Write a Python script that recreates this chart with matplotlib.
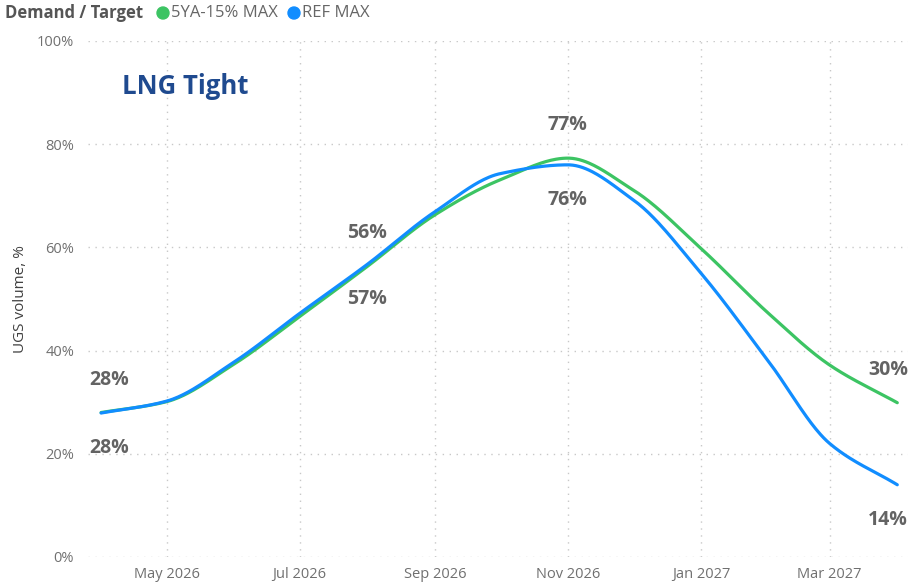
import numpy as np
import matplotlib
matplotlib.use("Agg")
import matplotlib.pyplot as plt
import matplotlib.dates as mdates
from datetime import date

months = ["2026-04-01", "2026-05-01", "2026-06-01", "2026-07-01", "2026-08-01",
          "2026-09-01", "2026-10-01", "2026-11-01", "2026-12-01", "2027-01-01",
          "2027-02-01", "2027-03-01", "2027-04-01"]
green_5ya = [28.0, 30.1, 37.4, 46.6, 56.3, 66.3, 73.1, 77.3, 71.1, 59.8, 47.2, 37.2, 29.9]
blue_ref = [27.9, 30.2, 37.8, 47.2, 56.7, 66.9, 74.3, 76.0, 69.2, 55.0, 37.9, 22.0, 14.0]
xtick_dates = ["2026-05-01", "2026-07-01", "2026-09-01", "2026-11-01", "2027-01-01", "2027-03-01"]
yticks = [0, 20, 40, 60, 80, 100]
label_idx = [0, 4, 7, 12]

GREEN = "#3CC463"
BLUE = "#118DFF"
FONT = ["Open Sans", "DejaVu Sans"]
plt.rcParams['font.family'] = FONT


def to_num(s):
    y, m, d = map(int, s.split("-"))
    return mdates.date2num(date(y, m, d))


def smooth(x, y, n=40):
    # monotone cubic (Fritsch-Carlson) for a smooth line through the points
    x = np.asarray(x, float); y = np.asarray(y, float)
    h = np.diff(x); d = np.diff(y) / h
    m = np.zeros_like(y)
    m[0], m[-1] = d[0], d[-1]
    for i in range(1, len(y) - 1):
        if d[i - 1] * d[i] <= 0:
            m[i] = 0
        else:
            w1 = 2 * h[i] + h[i - 1]; w2 = h[i] + 2 * h[i - 1]
            m[i] = (w1 + w2) / (w1 / d[i - 1] + w2 / d[i])
    xs, ys = [], []
    for i in range(len(h)):
        t = np.linspace(0, 1, n, endpoint=False)
        h00 = 2*t**3 - 3*t**2 + 1; h10 = t**3 - 2*t**2 + t
        h01 = -2*t**3 + 3*t**2; h11 = t**3 - t**2
        xs.append(x[i] + t*h[i])
        ys.append(h00*y[i] + h10*h[i]*m[i] + h01*y[i+1] + h11*h[i]*m[i+1])
    xs.append([x[-1]]); ys.append([y[-1]])
    return np.concatenate(xs), np.concatenate(ys)


x = [to_num(s) for s in months]

fig = plt.figure(figsize=(9.10, 5.84), dpi=100)
ax = fig.add_axes([88/910, 1 - 557/584, 1 - 88/910 - 0.002, (557 - 41)/584])

gx, gy = smooth(x, green_5ya)
bx, by = smooth(x, blue_ref)
ax.plot(gx, gy, color=GREEN, lw=2.3, solid_capstyle="round", zorder=3)
ax.plot(bx, by, color=BLUE, lw=2.3, solid_capstyle="round", zorder=4)

ax.set_ylim(0, 100)
ax.set_xlim(to_num("2026-03-26"), to_num("2027-04-06"))
ax.set_yticks(yticks)
ax.set_yticklabels([f"{v}%" for v in yticks])
ax.set_xticks([to_num(s) for s in xtick_dates])
ax.xaxis.set_major_formatter(mdates.DateFormatter("%b %Y"))
ax.tick_params(axis="both", length=0, colors="#707070", labelsize=10.5)
ax.tick_params(axis="x", pad=7)
ax.tick_params(axis="y", pad=10)
for sp in ax.spines.values():
    sp.set_visible(False)
ax.grid(True, color="#C8C8C8", linestyle=(0, (1, 4)), linewidth=1.0)
ax.set_axisbelow(True)

ax.set_ylabel("UGS volume, %", color="#404040", fontsize=11, labelpad=6.5)

offx = {0: 8, 4: 0, 7: 0, 12: -9}
for i in label_idx:
    ax.annotate(f"{green_5ya[i]:.0f}%", (x[i], green_5ya[i]), xytext=(offx[i], 33),
                textcoords="offset pixels", ha="center", va="center",
                fontsize=14, fontweight="bold", color="#636363", zorder=5)
    ax.annotate(f"{blue_ref[i]:.0f}%", (x[i], blue_ref[i]), xytext=(offx[i], -35),
                textcoords="offset pixels", ha="center", va="center",
                fontsize=14, fontweight="bold", color="#636363", zorder=5)

fig.text(122/910, 1 - 86/584, "LNG Tight", fontsize=18.5, fontweight="bold",
         color="#1F4A8F", ha="left", va="center")

# legend header
fig.text(5/910, 1 - 13/584, "Demand / Target", fontsize=12, fontweight="bold",
         color="#555555", ha="left", va="center")
fig.patches.append(matplotlib.patches.Ellipse((163/910, 1 - 13/584), 12/910, 12/584,
                   transform=fig.transFigure, color=GREEN, figure=fig))
fig.text(171/910, 1 - 13/584, "5YA-15% MAX", fontsize=12, color="#666666",
         ha="left", va="center")
fig.patches.append(matplotlib.patches.Ellipse((294/910, 1 - 13/584), 12/910, 12/584,
                   transform=fig.transFigure, color=BLUE, figure=fig))
fig.text(302/910, 1 - 13/584, "REF MAX", fontsize=12, color="#666666",
         ha="left", va="center")

fig.savefig("out.png", dpi=100)
